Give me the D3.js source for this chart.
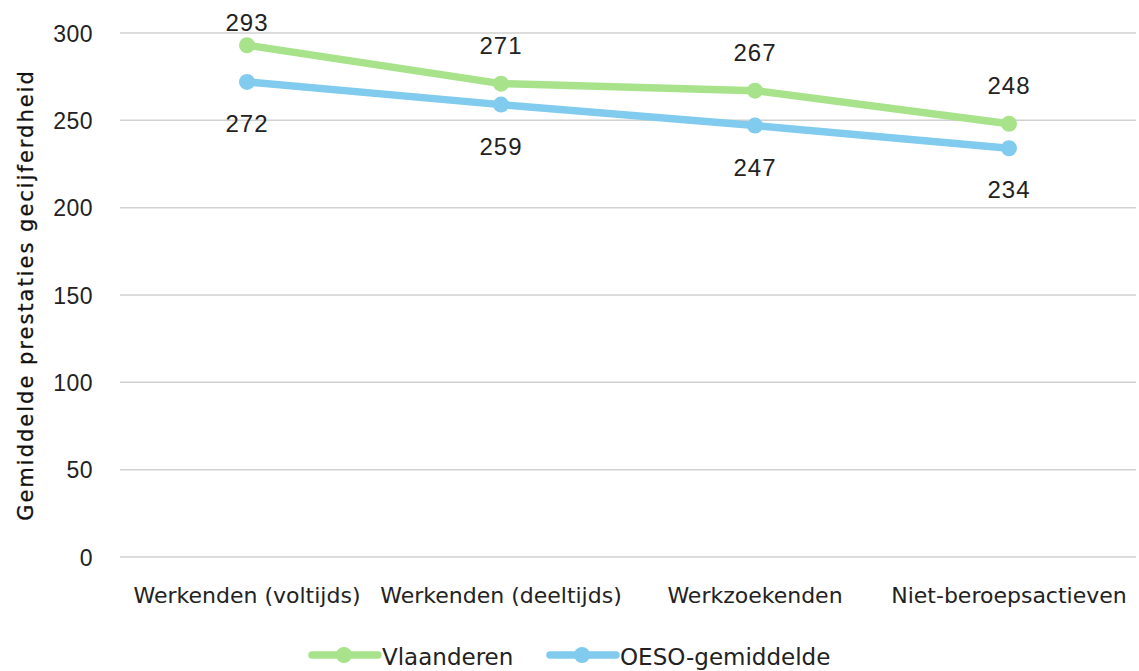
<!DOCTYPE html>
<html>
  <head>
    <meta charset="UTF-8" />
    <style>
      body { margin: 0; background: #fff; }
      svg { display: block; }
      .tick text { font-family: "Liberation Sans", Arial, sans-serif; font-size: 23px; letter-spacing: 0.5px; fill: #222; }
      .xlab { font-family: "DejaVu Sans", sans-serif; font-size: 22px; fill: #222; }
      .leg { font-family: "DejaVu Sans", sans-serif; font-size: 23px; fill: #222; }
    </style>
  </head>
  <body>
    <svg></svg>
    <script src="https://d3js.org/d3.v7.min.js"></script>
    <script>
      const categories = ["Werkenden (voltijds)", "Werkenden (deeltijds)", "Werkzoekenden", "Niet-beroepsactieven"];
      const vlaanderen = [293, 271, 267, 248];
      const oeso = [272, 259, 247, 234];
      const yTicks = [0, 50, 100, 150, 200, 250, 300];

      const width = 1139, height = 671;
      const margin = { left: 120, right: 3, top: 33, bottom: 114 };

      const svg = d3.select("svg").attr("width", width).attr("height", height);

      const x = d3.scaleBand().domain(categories).range([margin.left, width - margin.right]);
      const y = d3.scaleLinear().domain([0, 300]).range([height - margin.bottom, margin.top]);

      // gridlines
      svg.append("g").selectAll("line")
        .data(yTicks)
        .enter()
        .append("line")
        .attr("x1", margin.left)
        .attr("x2", width - margin.right)
        .attr("y1", d => y(d))
        .attr("y2", d => y(d))
        .attr("stroke", "#d0d0d0")
        .attr("stroke-width", 1.5);

      // y axis labels
      const yAxis = svg.append("g")
        .attr("transform", "translate(" + margin.left + ",0)")
        .call(d3.axisLeft(y).tickValues(yTicks).tickSize(0).tickPadding(27));
      yAxis.select(".domain").remove();
      yAxis.selectAll(".tick text").attr("dy", "0.36em");

      // category labels
      svg.append("g").selectAll("text")
        .data(categories)
        .enter()
        .append("text")
        .attr("class", "xlab")
        .attr("x", d => x(d) + x.bandwidth() / 2)
        .attr("y", 603)
        .attr("text-anchor", "middle")
        .text(d => d);

      // y axis title
      svg.append("text")
        .attr("transform", "translate(33," + (margin.top + (height - margin.bottom - margin.top) / 2) + ") rotate(-90)")
        .attr("text-anchor", "middle")
        .attr("font-family", "'DejaVu Sans', sans-serif")
        .attr("font-size", 21)
        .attr("letter-spacing", "2px")
        .attr("fill", "#111")
        .attr("stroke", "#111")
        .attr("stroke-width", 0.3)
        .text("Gemiddelde prestaties gecijferdheid");

      const series = [
        { name: "Vlaanderen", values: vlaanderen, color: "#a8e38c", labelPos: d => Math.max(y(d) - 30, 31) },
        { name: "OESO-gemiddelde", values: oeso, color: "#80cbee", labelPos: d => y(d) + 50 }
      ];

      const line = d3.line()
        .x((d, i) => x(categories[i]) + x.bandwidth() / 2)
        .y(d => y(d));

      series.forEach(s => {
        const g = svg.append("g");
        g.append("path")
          .datum(s.values)
          .attr("d", line)
          .attr("fill", "none")
          .attr("stroke", s.color)
          .attr("stroke-width", 7.5)
          .attr("stroke-linejoin", "round");
        g.selectAll("circle")
          .data(s.values)
          .enter()
          .append("circle")
          .attr("cx", (d, i) => x(categories[i]) + x.bandwidth() / 2)
          .attr("cy", d => y(d))
          .attr("r", 8)
          .attr("fill", s.color);
        g.selectAll("text")
          .data(s.values)
          .enter()
          .append("text")
          .attr("x", (d, i) => x(categories[i]) + x.bandwidth() / 2)
          .attr("y", s.labelPos)
          .attr("text-anchor", "middle")
          .attr("font-family", "'Liberation Sans', Arial, sans-serif")
          .attr("font-size", 24)
          .attr("letter-spacing", "1px")
          .attr("fill", "#222")
          .text(d => d);
      });

      // legend
      const legendItems = [
        { x: 312, textX: 382 },
        { x: 550, textX: 620 }
      ];
      series.forEach((s, i) => {
        const lg = svg.append("g").attr("transform", "translate(" + legendItems[i].x + ",655)");
        lg.append("line").attr("x1", 0).attr("x2", 66).attr("y1", 0).attr("y2", 0)
          .attr("stroke", s.color).attr("stroke-width", 7.5).attr("stroke-linecap", "round");
        lg.append("circle").attr("cx", 32).attr("cy", 0).attr("r", 8).attr("fill", s.color);
        svg.append("text")
          .attr("class", "leg")
          .attr("x", legendItems[i].textX)
          .attr("y", 665)
          .text(s.name);
      });
    </script>
  </body>
</html>
